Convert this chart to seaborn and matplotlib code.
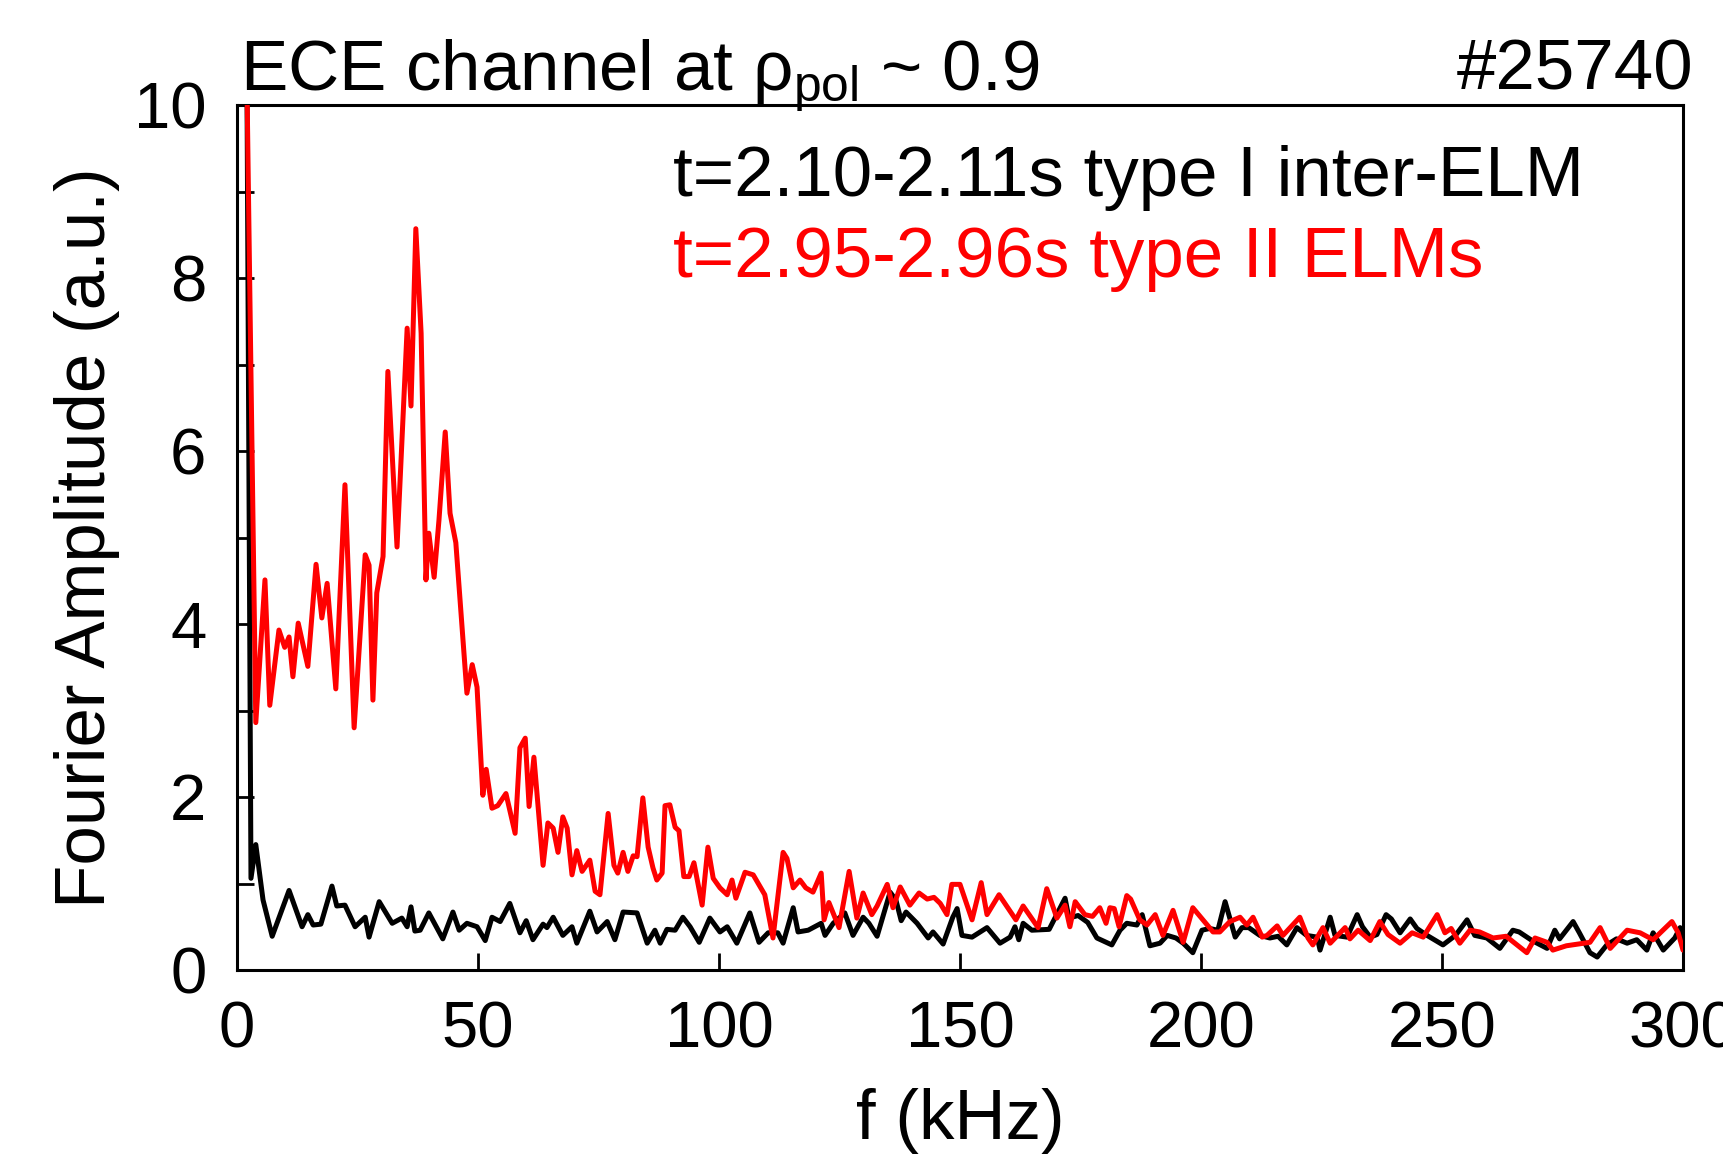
import matplotlib
matplotlib.use("Agg")
import matplotlib.pyplot as plt
import seaborn as sns
import pandas as pd

# ---- data ----
f_black = [2.0, 2.9, 3.9, 5.4, 7.3, 10.8, 13.5, 14.7, 15.8, 17.4, 19.7, 20.7, 22.4, 24.5, 26.6, 27.4,
           29.5, 32.2, 34.2, 35.3, 36.1, 36.9, 38.0, 39.8, 42.7, 44.8, 46.1, 47.7, 49.8, 51.5, 52.9,
           54.6, 56.6, 58.7, 60.0, 61.4, 63.5, 64.3, 65.6, 67.6, 69.5, 70.5, 73.2, 74.7, 76.8, 78.4,
           80.1, 83.0, 85.1, 86.7, 87.8, 89.2, 90.9, 92.5, 94.0, 95.9, 98.1, 100.2, 101.7, 103.7,
           106.4, 108.3, 110.2, 112.2, 113.3, 115.4, 116.4, 118.5, 121.2, 122.0, 123.7, 126.1,
           127.8, 129.9, 131.1, 132.8, 135.5, 136.7, 137.8, 138.8, 141.1, 143.4, 144.4, 146.5,
           148.5, 149.4, 150.4, 152.5, 155.6, 158.3, 160.4, 161.4, 162.2, 163.1, 164.9, 168.5,
           171.8, 172.6, 174.5, 176.5, 178.4, 181.5, 183.2, 184.6, 186.7, 187.8, 189.4, 191.5,
           193.0, 194.8, 196.3, 198.3, 200.2, 201.8, 203.5, 205.0, 207.1, 208.5, 209.9, 212.2,
           214.3, 216.0, 217.8, 219.9, 221.9, 224.1, 224.7, 226.8, 227.8, 230.3, 232.4, 233.5,
           235.1, 236.5, 238.4, 239.5, 241.3, 243.4, 244.8, 246.9, 250.2, 252.8, 255.2, 256.8,
           259.3, 262.0, 264.7, 266.0, 268.7, 271.8, 273.4, 274.4, 277.2, 278.5, 280.7, 282.2,
           284.2, 286.2, 288.4, 290.4, 292.5, 293.8, 295.9, 298.3, 299.4, 300.0]
a_black = [11.0, 1.06, 1.45, 0.81, 0.39, 0.92, 0.50, 0.64, 0.52, 0.53, 0.97, 0.74, 0.75, 0.50, 0.61, 0.38,
           0.79, 0.54, 0.60, 0.50, 0.73, 0.45, 0.46, 0.66, 0.36, 0.67, 0.46, 0.54, 0.50, 0.34, 0.61,
           0.56, 0.77, 0.43, 0.57, 0.35, 0.53, 0.49, 0.61, 0.40, 0.50, 0.31, 0.68, 0.44, 0.56, 0.35,
           0.67, 0.66, 0.31, 0.46, 0.31, 0.47, 0.46, 0.61, 0.50, 0.32, 0.60, 0.44, 0.50, 0.31,
           0.66, 0.32, 0.43, 0.43, 0.31, 0.72, 0.44, 0.46, 0.54, 0.40, 0.54, 0.66,
           0.40, 0.61, 0.54, 0.39, 0.90, 0.81, 0.57, 0.67, 0.54, 0.37, 0.44, 0.30,
           0.61, 0.71, 0.40, 0.38, 0.49, 0.31, 0.38, 0.50, 0.35, 0.54, 0.46, 0.47,
           0.83, 0.60, 0.63, 0.55, 0.37, 0.29, 0.46, 0.54, 0.52, 0.64, 0.28, 0.31,
           0.40, 0.37, 0.31, 0.20, 0.46, 0.48, 0.46, 0.79, 0.38, 0.49, 0.49, 0.40,
           0.37, 0.39, 0.29, 0.49, 0.40, 0.38, 0.23, 0.61, 0.40, 0.38, 0.64, 0.50,
           0.38, 0.41, 0.64, 0.59, 0.43, 0.59, 0.48, 0.40, 0.29, 0.40, 0.58, 0.40,
           0.37, 0.25, 0.46, 0.44, 0.34, 0.25, 0.46, 0.36, 0.56, 0.43, 0.20, 0.15,
           0.29, 0.36, 0.31, 0.35, 0.23, 0.43, 0.23, 0.37, 0.49, 0.33]

f_red = [2.0, 3.9, 5.8, 6.8, 8.7, 9.9, 10.8, 11.6, 12.7, 14.7, 16.4, 17.6, 18.7, 20.5, 22.4, 24.3,
         26.6, 27.4, 28.2, 29.0, 30.3, 31.3, 33.2, 35.3, 36.1, 37.1, 38.2, 39.2, 39.8, 40.9, 41.9,
         43.2, 44.2, 45.4, 47.7, 48.8, 49.8, 51.0, 51.7, 52.9, 54.1, 55.8, 57.7, 58.7, 59.8, 60.6,
         61.6, 63.5, 64.5, 65.6, 66.6, 67.6, 68.5, 69.5, 70.5, 71.6, 73.2, 74.3, 75.3, 77.0, 78.2,
         79.0, 80.1, 81.1, 82.2, 83.0, 84.2, 85.3, 86.3, 87.1, 88.2, 88.8, 89.8, 90.9, 91.7, 92.7,
         93.8, 94.8, 96.5, 97.7, 98.8, 100.2, 101.7, 102.7, 103.5, 105.4, 107.1, 109.5, 111.2,
         113.3, 114.1, 115.4, 116.8, 118.0, 119.5, 121.2, 121.8, 122.8, 124.9, 127.0, 128.6,
         129.9, 131.7, 132.8, 134.9, 136.1, 137.6, 139.6, 141.5, 143.2, 144.6, 145.9, 147.3,
         148.3, 150.0, 152.5, 154.4, 155.6, 158.1, 161.6, 163.1, 166.2, 168.0, 170.1, 171.8,
         172.8, 173.9, 175.9, 177.5, 179.0, 180.3, 181.1, 182.0, 183.0, 184.6, 185.4, 187.3,
         188.8, 190.5, 192.1, 194.2, 196.3, 198.3, 200.4, 202.5, 203.9, 206.0, 208.1, 209.5,
         210.8, 212.7, 213.7, 215.8, 217.0, 220.5, 222.2, 223.2, 225.3, 226.8, 229.9, 230.9,
         232.6, 235.1, 237.1, 238.8, 241.3, 243.8, 246.1, 249.0, 250.6, 251.9, 253.7, 255.8,
         257.8, 260.6, 263.3, 267.6, 269.3, 271.8, 273.0, 275.8, 280.7, 282.8, 284.9, 288.4,
         291.1, 293.8, 297.7, 299.0, 300.0]
a_red = [10.5, 2.86, 4.51, 3.06, 3.93, 3.73, 3.85, 3.39, 4.01, 3.51, 4.69, 4.07, 4.47, 3.25, 5.61, 2.80,
         4.80, 4.68, 3.12, 4.36, 4.78, 6.92, 4.89, 7.42, 6.52, 8.57, 7.36, 4.51, 5.05, 4.54, 5.20,
         6.22, 5.28, 4.94, 3.20, 3.53, 3.27, 2.02, 2.32, 1.87, 1.90, 2.04, 1.58, 2.57, 2.68, 1.89,
         2.46, 1.21, 1.70, 1.64, 1.36, 1.77, 1.64, 1.10, 1.38, 1.14, 1.27, 0.91, 0.87, 1.81, 1.21,
         1.12, 1.36, 1.14, 1.32, 1.31, 1.99, 1.42, 1.18, 1.04, 1.12, 1.90, 1.91, 1.65, 1.61, 1.08,
         1.08, 1.24, 0.75, 1.42, 1.06, 0.95, 0.87, 1.04, 0.83, 1.13, 1.10, 0.87, 0.37,
         1.36, 1.29, 0.95, 1.04, 0.95, 0.90, 1.12, 0.58, 0.78, 0.49, 1.14, 0.60,
         0.89, 0.64, 0.74, 0.99, 0.72, 0.96, 0.75, 0.89, 0.82, 0.84, 0.77, 0.64,
         0.99, 0.99, 0.58, 1.01, 0.64, 0.87, 0.58, 0.74, 0.49, 0.94, 0.60, 0.75,
         0.50, 0.79, 0.64, 0.62, 0.72, 0.54, 0.72, 0.71, 0.50, 0.86, 0.82, 0.58,
         0.52, 0.64, 0.40, 0.69, 0.32, 0.72, 0.58, 0.44, 0.44, 0.56, 0.61, 0.52,
         0.61, 0.38, 0.40, 0.51, 0.40, 0.61, 0.37, 0.29, 0.49, 0.31, 0.49, 0.36,
         0.46, 0.34, 0.56, 0.41, 0.31, 0.43, 0.38, 0.64, 0.43, 0.48, 0.31, 0.46,
         0.44, 0.37, 0.39, 0.20, 0.37, 0.32, 0.23, 0.28, 0.32, 0.49, 0.25, 0.46,
         0.43, 0.35, 0.56, 0.43, 0.23]

label_black = "t=2.10-2.11s type I inter-ELM"
label_red = "t=2.95-2.96s type II ELMs"
x_ticks = [0, 50, 100, 150, 200, 250, 300]
y_ticks = [0, 2, 4, 6, 8, 10]

# ---- style ----
sns.set_theme(style="white")
plt.rcParams['font.family'] = ['Liberation Sans', 'DejaVu Sans']
plt.rcParams['mathtext.fontset'] = 'custom'
plt.rcParams['mathtext.rm'] = 'Liberation Sans'
plt.rcParams['mathtext.it'] = 'Liberation Sans'
plt.rcParams['mathtext.default'] = 'regular'
plt.rcParams['text.color'] = 'black'
plt.rcParams['axes.labelcolor'] = 'black'
plt.rcParams['xtick.color'] = 'black'
plt.rcParams['ytick.color'] = 'black'

FS_TICK = 47
FS_TEXT = 51
FS_LABEL = 51

fig = plt.figure(figsize=(17.24, 11.58), dpi=100)
ax = fig.add_axes([237 / 1724, 1 - 970 / 1158, (1683 - 237) / 1724, (970 - 105) / 1158])

df_b = pd.DataFrame({"f": f_black, "amp": a_black})
df_r = pd.DataFrame({"f": f_red, "amp": a_red})
sns.lineplot(data=df_b, x="f", y="amp", color="black", linewidth=3.6, sort=False,
             estimator=None, ax=ax, zorder=3)
sns.lineplot(data=df_r, x="f", y="amp", color="#ff0000", linewidth=3.6, sort=False,
             estimator=None, ax=ax, zorder=4)

ax.set_xlim(0, 300)
ax.set_ylim(0, 10)
ax.set_xticks(x_ticks)
ax.set_yticks(y_ticks)
ax.set_yticks(range(0, 11), minor=True)
ax.tick_params(axis='both', which='both', direction='in', length=12, width=2,
               colors='black', labelsize=FS_TICK, top=False, right=False, left=True, bottom=True)
ax.tick_params(axis='y', which='major', pad=22)
ax.tick_params(axis='x', which='major', pad=22)
for s in ax.spines.values():
    s.set_color('black')
    s.set_linewidth(2.2)

ax.set_xlabel("f (kHz)", fontsize=FS_LABEL, labelpad=20, color='black')
ax.set_ylabel("Fourier Amplitude (a.u.)", fontsize=FS_LABEL, labelpad=10, color='black')

ax.text(0.002, 1.018, r"ECE channel at $\rho_{\mathrm{pol}}$ ~ 0.9", transform=ax.transAxes,
        fontsize=FS_TEXT, ha='left', va='baseline', color='black')
ax.text(1.007, 1.018, "#25740", transform=ax.transAxes,
        fontsize=FS_TEXT, ha='right', va='baseline', color='black')

ax.text(90.5, 8.95, label_black, fontsize=FS_TEXT, color='black', ha='left', va='baseline')
ax.text(90.5, 8.01, label_red, fontsize=FS_TEXT, color='#ff0000', ha='left', va='baseline')

fig.savefig("out.png", dpi=100)
